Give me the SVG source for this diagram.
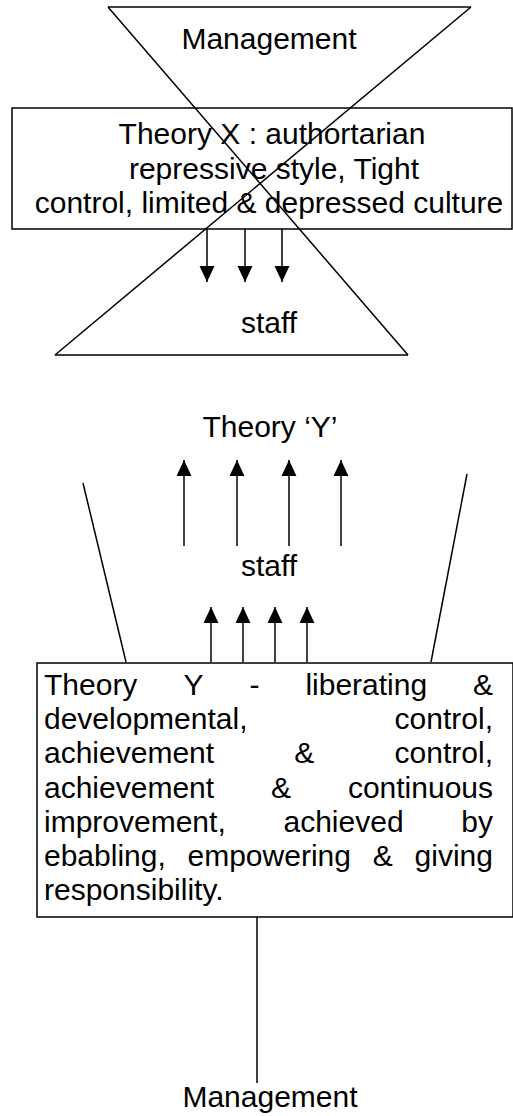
<svg xmlns="http://www.w3.org/2000/svg" width="513" height="1116" viewBox="0 0 513 1116">
<style>
  .ln { stroke: #000; stroke-width: 1.5; fill: none; }
  .box { stroke: #000; stroke-width: 1.5; fill: none; }
  .t { font-family: "Liberation Sans", Arial, sans-serif; font-size: 30px; fill: #000; }
  .c { text-anchor: middle; }
  .e { text-anchor: end; }
</style>
<defs>
  <marker id="arr" markerUnits="userSpaceOnUse" markerWidth="16" markerHeight="16" viewBox="0 0 15 14" refX="15" refY="7" orient="auto">
    <path d="M0,0 L15,7 L0,14 Z" fill="#000"/>
  </marker>
</defs>
<rect width="513" height="1116" fill="#fff"/>

<g id="theory-x-hourglass">
  <line class="ln" x1="108" y1="7" x2="471" y2="7"/>
  <line class="ln" x1="108" y1="7" x2="408" y2="355"/>
  <line class="ln" x1="471" y1="7" x2="55" y2="355"/>
  <line class="ln" x1="55" y1="355" x2="408" y2="355"/>
</g>

<g id="management-top">
  <text class="t c" x="269" y="49">Management</text>
</g>

<g id="theory-x-box">
  <rect class="box" x="12" y="108" width="500" height="121"/>
  <text class="t c" x="272" y="144">Theory X : authortarian</text>
  <text class="t c" x="274" y="178.5">repressive style, Tight</text>
  <text class="t c" x="269" y="212.5">control, limited &amp; depressed culture</text>
</g>

<g id="staff-x">
  <text class="t c" x="269" y="333">staff</text>
</g>

<g id="theory-y-label">
  <text class="t c" x="270" y="437">Theory ‘Y’</text>
</g>

<g id="staff-y">
  <text class="t c" x="269" y="576">staff</text>
</g>

<g id="theory-y-funnel">
  <line class="ln" x1="83" y1="483" x2="126" y2="662"/>
  <line class="ln" x1="467" y1="474" x2="431" y2="662"/>
</g>

<g id="theory-y-box">
  <rect class="box" x="37" y="663" width="476" height="254"/>
  <text class="t" x="44" y="695">Theory</text>
  <text class="t" x="183.4" y="695">Y</text>
  <text class="t" x="249.4" y="695">-</text>
  <text class="t" x="305.4" y="695">liberating</text>
  <text class="t e" x="493" y="695">&amp;</text>

  <text class="t" x="44" y="729.2">developmental,</text>
  <text class="t e" x="493" y="729.2">control,</text>

  <text class="t" x="44" y="763.4">achievement</text>
  <text class="t" x="294.3" y="763.4">&amp;</text>
  <text class="t e" x="493" y="763.4">control,</text>

  <text class="t" x="44" y="797.6">achievement</text>
  <text class="t" x="271" y="797.6">&amp;</text>
  <text class="t e" x="493" y="797.6">continuous</text>

  <text class="t" x="44" y="831.8">improvement,</text>
  <text class="t" x="283.5" y="831.8">achieved</text>
  <text class="t e" x="493" y="831.8">by</text>

  <text class="t" x="44" y="866">ebabling,</text>
  <text class="t" x="187.5" y="866">empowering</text>
  <text class="t" x="372.7" y="866">&amp;</text>
  <text class="t e" x="493" y="866">giving</text>

  <text class="t" x="44" y="900.2">responsibility.</text>
</g>

<g id="management-bottom">
  <text class="t c" x="270" y="1107">Management</text>
</g>

<g id="connectors">
  <line class="ln" x1="207" y1="229" x2="207" y2="282" marker-end="url(#arr)"/>
  <line class="ln" x1="245" y1="229" x2="245" y2="282" marker-end="url(#arr)"/>
  <line class="ln" x1="282" y1="229" x2="282" y2="282" marker-end="url(#arr)"/>

  <line class="ln" x1="184" y1="546" x2="184" y2="460" marker-end="url(#arr)"/>
  <line class="ln" x1="237" y1="546" x2="237" y2="460" marker-end="url(#arr)"/>
  <line class="ln" x1="289" y1="546" x2="289" y2="460" marker-end="url(#arr)"/>
  <line class="ln" x1="341" y1="546" x2="341" y2="460" marker-end="url(#arr)"/>

  <line class="ln" x1="211" y1="662" x2="211" y2="607" marker-end="url(#arr)"/>
  <line class="ln" x1="243" y1="662" x2="243" y2="607" marker-end="url(#arr)"/>
  <line class="ln" x1="275" y1="662" x2="275" y2="607" marker-end="url(#arr)"/>
  <line class="ln" x1="307" y1="662" x2="307" y2="607" marker-end="url(#arr)"/>

  <line class="ln" x1="257" y1="917" x2="257" y2="1083"/>
</g>
</svg>
